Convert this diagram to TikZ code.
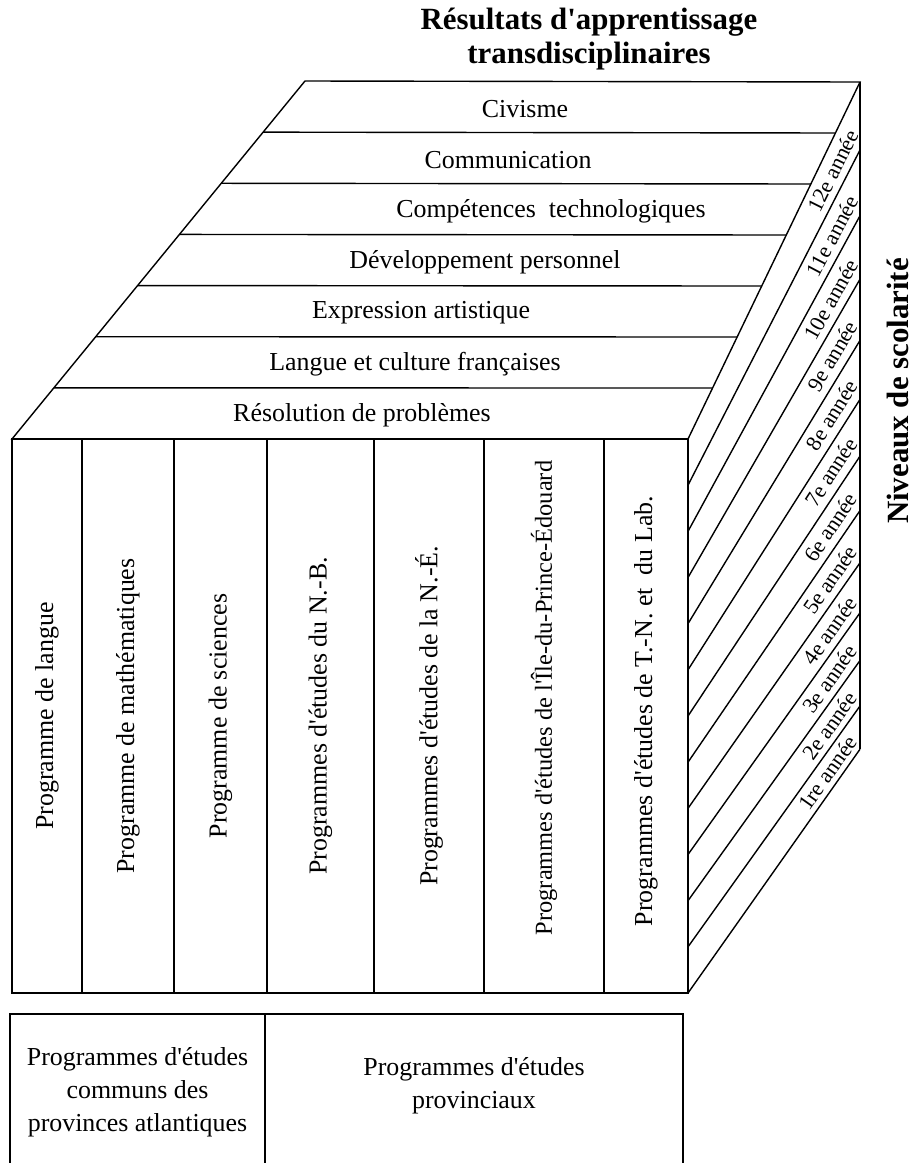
\documentclass[tikz,border=0pt]{standalone}
\usepackage{fontspec}
\newfontfamily\tnr{Liberation Serif}
\usetikzlibrary{calc}

\begin{document}
\begin{tikzpicture}[x=1bp,y=-1bp,line width=1.4bp,
  titre/.style={font=\tnr\fontsize{31}{35}\selectfont\bfseries,align=center},
  bande/.style={font=\tnr\fontsize{26}{30}\selectfont},
  prog/.style={rotate=90,font=\tnr\fontsize{26}{30}\selectfont},
  annee/.style={sloped,anchor=east,inner sep=1bp,font=\tnr\fontsize{22}{24}\selectfont},
  bas/.style={align=center,font=\tnr\fontsize{26}{33}\selectfont}]
  \useasboundingbox (0,0) rectangle (914,1163);

  % titre
  \node[titre] (titre) at (589,39) {Résultats d'apprentissage\\transdisciplinaires};

  % face du dessus
  \coordinate (t0) at (305,81);
  \coordinate (t1) at (860,82);
  \coordinate (t2) at (688,439);
  \coordinate (t3) at (12,439);
  \draw (t0) -- (t1) -- (t2) -- (t3) -- cycle;
  \foreach \k in {1,...,6}
    \draw ($(t0)!\k/7!(t3)$) -- ($(t1)!\k/7!(t2)$);
  \node[bande] (civ) at (525,109) {Civisme};
  \node[bande] (com) at (508,160) {Communication};
  \node[bande] (tec) at (551,211) {Compétences\ \ technologiques};
  \node[bande] (dev) at (485,262) {Développement personnel};
  \node[bande] (art) at (421,313) {Expression artistique};
  \node[bande] (lcf) at (415,364) {Langue et culture françaises};
  \node[bande] (pro) at (362,415) {Résolution de problèmes};

  % face avant
  \draw (12,439) rectangle (688,993);
  \draw (82,439) -- (82,993);
  \draw (174,439) -- (174,993);
  \draw (267,439) -- (267,993);
  \draw (374,439) -- (374,993);
  \draw (484,439) -- (484,993);
  \draw (604,439) -- (604,993);
  \node[prog] (lan) at (47,716) {Programme de langue};
  \node[prog] (mat) at (128,716) {Programme de mathématiques};
  \node[prog] (sci) at (220.5,716) {Programme de sciences};
  \node[prog] (nb) at (320.5,716) {Programmes d'études du N.-B.};
  \node[prog] (ne) at (429,716) {Programmes d'études de la N.-É.};
  \node[prog,font=\tnr\fontsize{24.5}{28}\selectfont] (ipe) at (544,698) {Programmes d'études de l'Île-du-Prince-Édouard};
  \node[prog] (tn) at (646,711) {Programmes d'études de T.-N. et\ \ du Lab.};

  % face de droite
  \foreach \k in {0,...,12} {
    \coordinate (b\k) at (860,{82+69.1*\k-1.125*\k*\k});
    \coordinate (f\k) at (688,{439+46.17*\k});
  }
  \draw (b0) -- (b12);
  \foreach \k in {1,...,12}
    \draw (b\k) -- (f\k);
  \foreach \k/\lab in {1/12e année,2/11e année,3/10e année,4/9e année,
      5/8e année,6/7e année,7/6e année,8/5e année,9/4e année,
      10/3e année,11/2e année,12/1re année} {
    \pgfmathtruncatemacro\j{\k-1}
    \path ($(f\j)!.5!(f\k)$) -- ($(b\j)!.5!(b\k)$)
      node[annee,pos=.96] (an\k) {\lab};
  }
  \node[rotate=90,inner sep=0pt,font=\tnr\fontsize{31}{35}\selectfont\bfseries] (niv) at (898,391) {Niveaux de scolarité};

  % cases du bas
  \draw (10,1163) -- (10,1014) -- (683,1014) -- (683,1163);
  \draw (265,1014) -- (265,1163);
  \node[bas] (pac) at (137.5,1092) {Programmes d'études\\communs des\\provinces atlantiques};
  \node[bas] (prv) at (474,1086) {Programmes d'études\\provinciaux};
\end{tikzpicture}
\end{document}
